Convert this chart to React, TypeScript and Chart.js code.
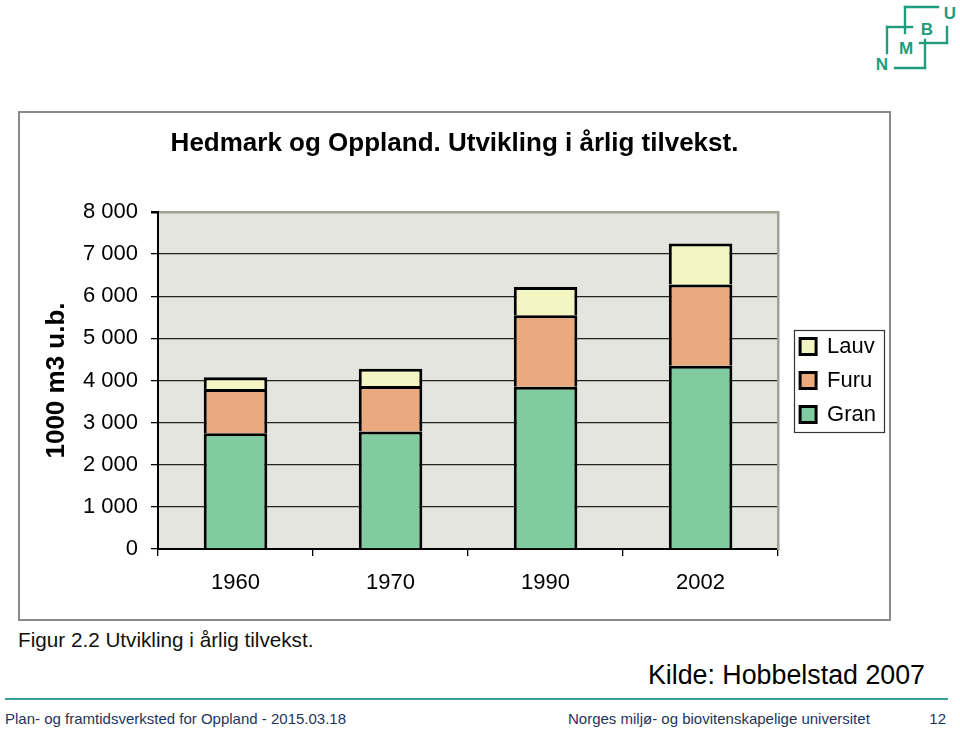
import React, { useEffect, useRef } from "react";
import { Chart, registerables } from "chart.js";

Chart.register(...registerables);

// ---- data ----
const years = ["1960", "1970", "1990", "2002"];
const granValues = [2750, 2790, 3850, 4350];
const furuValues = [1050, 1080, 1700, 1930];
const lauvValues = [280, 410, 670, 970];
const yTickValues = [0, 1000, 2000, 3000, 4000, 5000, 6000, 7000, 8000];
const chartTitle = "Hedmark og Oppland. Utvikling i årlig tilvekst.";
const yAxisTitle = "1000 m3 u.b.";
const seriesNames = ["Gran", "Furu", "Lauv"];
const captionText = "Figur 2.2 Utvikling i årlig tilvekst.";
const sourceText = "Kilde: Hobbelstad 2007";
const footerLeft = "Plan- og framtidsverksted for Oppland - 2015.03.18";
const footerMid = "Norges miljø- og biovitenskapelige universitet";
const pageNumber = "12";

const FONT = "'Liberation Sans', Arial, Helvetica, sans-serif";
const TEAL = "#1e9c7e";

const fmt = (v: number) => String(v).replace(/\B(?=(\d{3})+(?!\d))/g, " ");

const plotBg = {
  id: "plotBg",
  beforeDraw(chart: any) {
    const { ctx, chartArea } = chart;
    if (!chartArea) return;
    ctx.save();
    ctx.fillStyle = "#E4E5DF";
    ctx.fillRect(chartArea.left, chartArea.top, chartArea.width, chartArea.height);
    ctx.restore();
  },
};

const legendFrame = {
  id: "legendFrame",
  afterDraw(chart: any) {
    const lg = chart.legend;
    if (!lg || !lg.legendHitBoxes || !lg.legendHitBoxes.length) return;
    const hb = lg.legendHitBoxes;
    const first = hb[0];
    const last = hb[hb.length - 1];
    const l = first.left - 6;
    const t = first.top - 5.5;
    const b = last.top + last.height + 6.5;
    const r = l + 90;
    const ctx = chart.ctx;
    ctx.save();
    ctx.strokeStyle = "#333";
    ctx.lineWidth = 1.2;
    ctx.strokeRect(Math.round(l) + 0.5, Math.round(t) + 0.5, Math.round(r - l), Math.round(b - t));
    ctx.restore();
  },
};

function ChartBox() {
  const ref = useRef<HTMLCanvasElement | null>(null);
  useEffect(() => {
    if (!ref.current) return;
    const chart = new Chart(ref.current, {
      type: "bar",
      data: {
        labels: years,
        datasets: [
          { label: seriesNames[0], data: granValues, backgroundColor: "#80CBA0", borderColor: "#000", borderWidth: 3 },
          { label: seriesNames[1], data: furuValues, backgroundColor: "#EBAA7E", borderColor: "#000", borderWidth: 3 },
          { label: seriesNames[2], data: lauvValues, backgroundColor: "#F3F5C3", borderColor: "#000", borderWidth: 3 },
        ],
      },
      options: {
        responsive: false,
        animation: false,
        devicePixelRatio: 1,
        layout: { padding: { left: 5, right: 5, top: 0, bottom: 0 } },
        datasets: { bar: { barPercentage: 0.41, categoryPercentage: 1 } },
        plugins: {
          tooltip: { enabled: false },
          title: {
            display: true,
            text: chartTitle,
            color: "#000",
            font: { family: FONT, size: 26, weight: "bold" },
            padding: { top: 16.4, bottom: 52.4 },
          },
          legend: {
            display: true,
            position: "right",
            align: "center",
            fullSize: false,
            reverse: true,
            labels: {
              boxWidth: 16,
              boxHeight: 16,
              padding: 12,
              color: "#000",
              font: { family: FONT, size: 22 },
            },
          },
        },
        scales: {
          x: {
            stacked: true,
            grid: { display: true, offset: true, drawOnChartArea: false, drawTicks: true, tickLength: 7, color: "#000", lineWidth: 1.3 },
            border: { display: true, color: "#000", width: 2 },
            ticks: { color: "#000", padding: 14, font: { family: FONT, size: 22 } },
            afterFit: (s: any) => { s.height = 72; },
          },
          y: {
            stacked: true,
            min: 0,
            max: 8000,
            afterBuildTicks: (s: any) => { s.ticks = yTickValues.map((v) => ({ value: v })); },
            grid: {
              color: (c: any) => (c.tick && c.tick.value === 8000 ? "#9FA294" : "#222"),
              lineWidth: (c: any) => (c.tick && c.tick.value === 8000 ? 2.5 : 1.3),
              tickLength: 7,
              tickColor: "#000",
            },
            border: { display: true, color: "#000", width: 2 },
            ticks: { color: "#000", padding: 13, font: { family: FONT, size: 22 }, callback: (v: any) => fmt(Number(v)) },
            title: {
              display: true,
              text: yAxisTitle,
              color: "#000",
              font: { family: FONT, size: 26, weight: "bold" },
              padding: { top: 18, bottom: 0 },
            },
            afterFit: (s: any) => { s.width = 135; },
          },
          yR: {
            type: "linear",
            position: "right",
            display: true,
            grid: { display: false, drawTicks: false },
            border: { display: true, color: "#9FA294", width: 2.5 },
            ticks: { display: false },
            afterFit: (s: any) => { s.width = 10; },
          },
        },
      } as any,
      plugins: [plotBg, legendFrame],
    });
    return () => chart.destroy();
  }, []);
  return (
    <canvas
      ref={ref}
      width={873}
      height={509}
      style={{ position: "absolute", left: 18, top: 112, width: 873, height: 509 }}
    />
  );
}

function Logo() {
  const sw = 2.4;
  return (
    <svg style={{ position: "absolute", left: 860, top: 0 }} width={100} height={80}>
      <g stroke={TEAL} strokeWidth={sw} fill="none" strokeLinecap="square">
        <line x1={45} y1={7} x2={78} y2={7} />
        <line x1={45} y1={7} x2={45} y2={33} />
        <line x1={27} y1={27} x2={52} y2={27} />
        <line x1={27} y1={27} x2={27} y2={53} />
        <line x1={87} y1={27} x2={87} y2={43} />
        <line x1={60} y1={43} x2={87} y2={43} />
        <line x1={65} y1={40} x2={65} y2={68} />
        <line x1={35} y1={68} x2={65} y2={68} />
      </g>
      <g fill={TEAL} fontFamily={FONT} fontWeight="bold" fontSize={17} textAnchor="middle">
        <text x={90} y={19}>U</text>
        <text x={67} y={35}>B</text>
        <text x={46} y={54}>M</text>
        <text x={22} y={70}>N</text>
      </g>
    </svg>
  );
}

export default function App() {
  const abs = (o: any) => ({ position: "absolute" as const, whiteSpace: "nowrap" as const, ...o });
  return (
    <div style={{ position: "absolute", left: 0, top: 0, width: 960, height: 730, background: "#fff", fontFamily: FONT, overflow: "hidden" }}>
      <Logo />
      <div style={abs({ left: 18, top: 111, width: 873, height: 510, border: "2px solid #8a8a8a", boxSizing: "border-box" })} />
      <ChartBox />
      <div style={abs({ left: 18, top: 630, fontSize: 20.7, lineHeight: "20.7px", color: "#111" })}>{captionText}</div>
      <div style={abs({ right: 35, top: 661.5, fontSize: 26.8, lineHeight: "26.8px", color: "#000" })}>{sourceText}</div>
      <div style={abs({ left: 5, top: 698, width: 943, height: 2, background: "#3aa394" })} />
      <div style={abs({ left: 5, top: 711, fontSize: 15, lineHeight: "15px", color: "#1c355e" })}>{footerLeft}</div>
      <div style={abs({ left: 568, top: 711, fontSize: 15, lineHeight: "15px", color: "#1c355e" })}>{footerMid}</div>
      <div style={abs({ right: 14, top: 711, fontSize: 15, lineHeight: "15px", color: "#1c355e" })}>{pageNumber}</div>
    </div>
  );
}
